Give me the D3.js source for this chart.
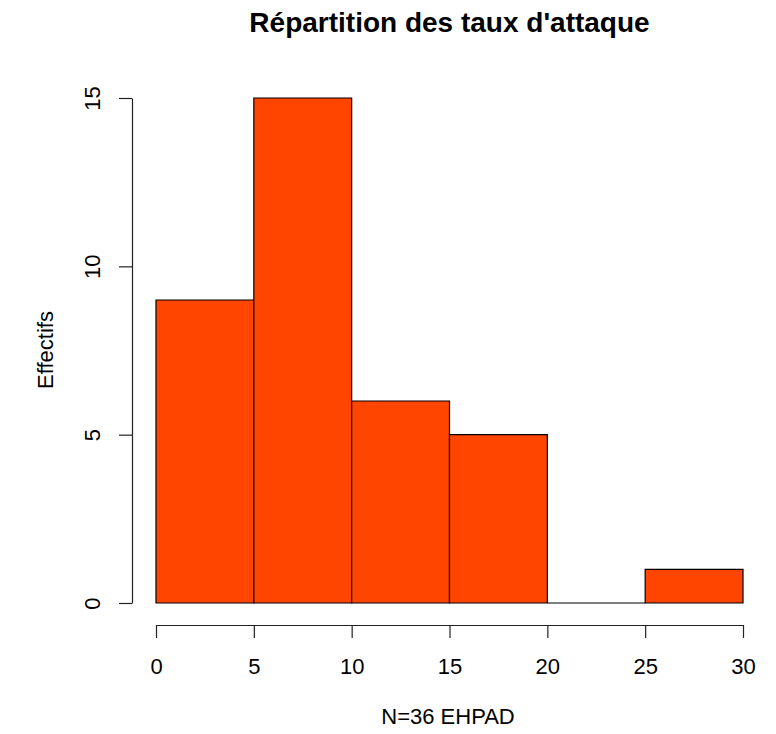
<!DOCTYPE html>
<html>
<head>
<meta charset="utf-8">
<script src="https://cdn.jsdelivr.net/npm/d3@7"></script>
<style>
  body { margin: 0; background: #fff; }
  svg { display: block; font-family: "Liberation Sans", Arial, sans-serif; }
</style>
</head>
<body>
<svg width="776" height="734"></svg>
<script>
"use strict";

// histogram bins (taux d'attaque) and counts
const binLo = [0, 5, 10, 15, 20, 25];
const binHi = [5, 10, 15, 20, 25, 30];
const counts = [9, 15, 6, 5, 0, 1];
const xTicks = [0, 5, 10, 15, 20, 25, 30];
const yTicks = [0, 5, 10, 15];

const svg = d3.select("svg");
const bins = binLo.map((lo, i) => ({ lo: lo, hi: binHi[i], n: counts[i] }));

const x = d3.scaleLinear().domain([0, 30]).range([156, 743]);
const y = d3.scaleLinear().domain([0, 15]).range([603, 98]);

// bars drawn as paths so the empty bin still shows its baseline
svg.append("g")
  .selectAll("path")
  .data(bins)
  .enter()
  .append("path")
  .attr("d", (d) => `M${x(d.lo)},${y(0)}V${y(d.n)}H${x(d.hi)}V${y(0)}Z`)
  .attr("fill", "#ff4500")
  .attr("stroke", "#000")
  .attr("stroke-width", 1.2);

// x axis
const xAxis = svg.append("g")
  .attr("transform", "translate(0,625)")
  .call(d3.axisBottom(x).tickValues(xTicks).tickSize(13).tickSizeOuter(0));
xAxis.selectAll("text")
  .attr("y", 49)
  .attr("dy", 0)
  .attr("font-size", 22)
  .attr("fill", "#000");

// y axis, labels rotated like R
const yAxis = svg.append("g")
  .attr("transform", "translate(132,0)")
  .call(d3.axisLeft(y).tickValues(yTicks).tickSize(13).tickSizeOuter(0));
yAxis.selectAll("text")
  .attr("x", 0)
  .attr("y", -32)
  .attr("dy", 0)
  .attr("transform", "rotate(-90)")
  .attr("text-anchor", "middle")
  .attr("font-size", 22)
  .attr("fill", "#000");

svg.selectAll(".domain, .tick line")
  .attr("stroke", "#222")
  .attr("stroke-width", 1.2);

// titles
svg.append("text")
  .attr("x", 449.5)
  .attr("y", 32)
  .attr("text-anchor", "middle")
  .attr("font-size", 28)
  .attr("font-weight", "bold")
  .text("Répartition des taux d'attaque");

svg.append("text")
  .attr("x", 448)
  .attr("y", 724)
  .attr("text-anchor", "middle")
  .attr("font-size", 22)
  .text("N=36 EHPAD");

svg.append("text")
  .attr("transform", "translate(53,350) rotate(-90)")
  .attr("text-anchor", "middle")
  .attr("font-size", 22)
  .text("Effectifs");
</script>
</body>
</html>
